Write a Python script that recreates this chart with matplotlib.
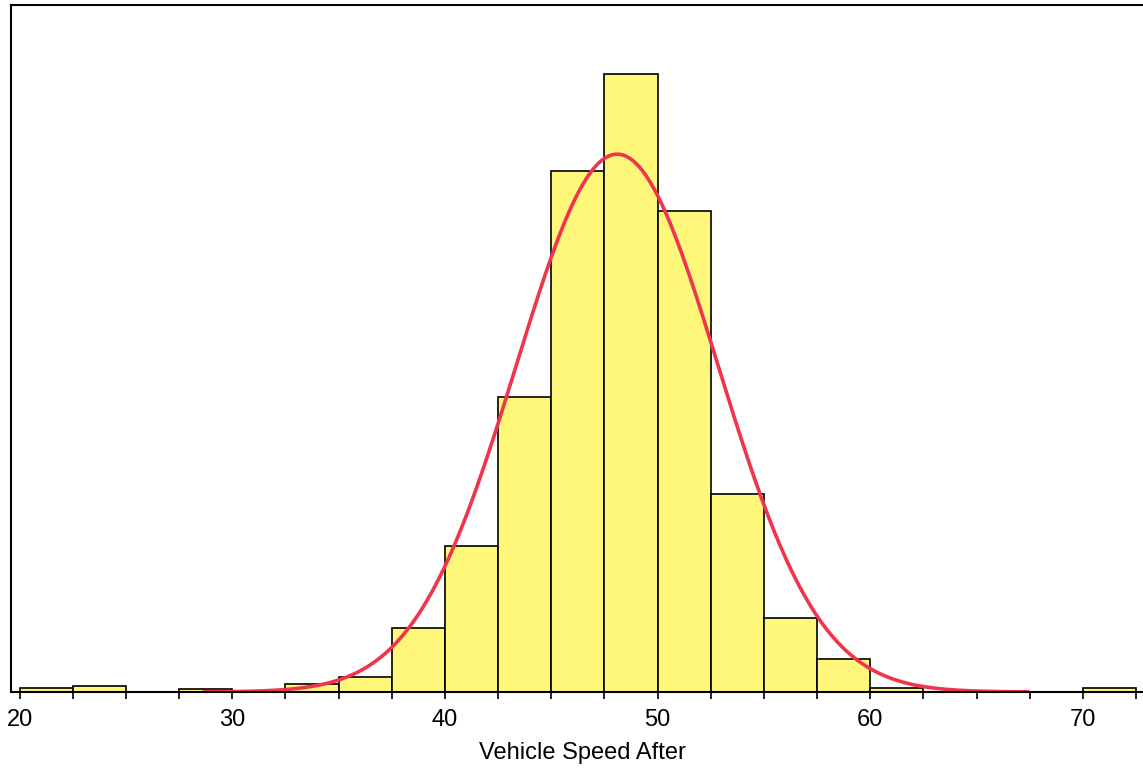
import numpy as np
import matplotlib
matplotlib.use("Agg")
import matplotlib.pyplot as plt

# Histogram data (bin edges every 2.5 from 20 to 72.5)
bin_left = [20, 22.5, 25, 27.5, 30, 32.5, 35, 37.5, 40, 42.5, 45, 47.5, 50,
            52.5, 55, 57.5, 60, 62.5, 65, 67.5, 70]
counts = [1.3, 2, 0, 1, 0, 2.6, 4.8, 20.6, 47, 95, 168, 199.3, 155, 64, 24,
          10.6, 1.3, 0, 0, 0, 1.3]
bin_width = 2.5

# Fitted normal curve parameters
fit_mean = 48.1
fit_sd = 4.75
fit_peak = 173.5
fit_range = (28.7, 67.4)

tick_values = [20, 30, 40, 50, 60, 70]
x_label = "Vehicle Speed After"

plt.rcParams['font.family'] = ['Liberation Sans', 'DejaVu Sans']

fig = plt.figure(figsize=(11.43, 7.70), dpi=100)
ax = fig.add_axes([11/1143, 78/770, (1143-11)/1143 + 0.01, (692-5)/770])

ax.bar(bin_left, counts, width=bin_width, align='edge',
       color='#FFF77A', edgecolor='black', linewidth=1.2)

xs = np.linspace(fit_range[0], fit_range[1], 400)
ys = fit_peak * np.exp(-0.5 * ((xs - fit_mean) / fit_sd) ** 2)
ax.plot(xs, ys, color='#F0344E', linewidth=2.6)

ax.set_xlim(19.6, 73.36)
ax.set_ylim(0, (692 - 5) / 3.1)

ax.set_xticks(tick_values)
ax.set_xticklabels([str(v) for v in tick_values], fontsize=17)
ax.set_xticks(np.arange(20, 75, 2.5), minor=True)
ax.tick_params(axis='x', which='both', direction='out', length=5, width=1.2,
               pad=7, color='black')
ax.set_yticks([])
ax.set_xlabel(x_label, fontsize=17, labelpad=8)

for side in ['left', 'top', 'bottom']:
    ax.spines[side].set_linewidth(1.5)
    ax.spines[side].set_color('black')
ax.spines['right'].set_visible(False)

fig.savefig('out.png', dpi=100)
